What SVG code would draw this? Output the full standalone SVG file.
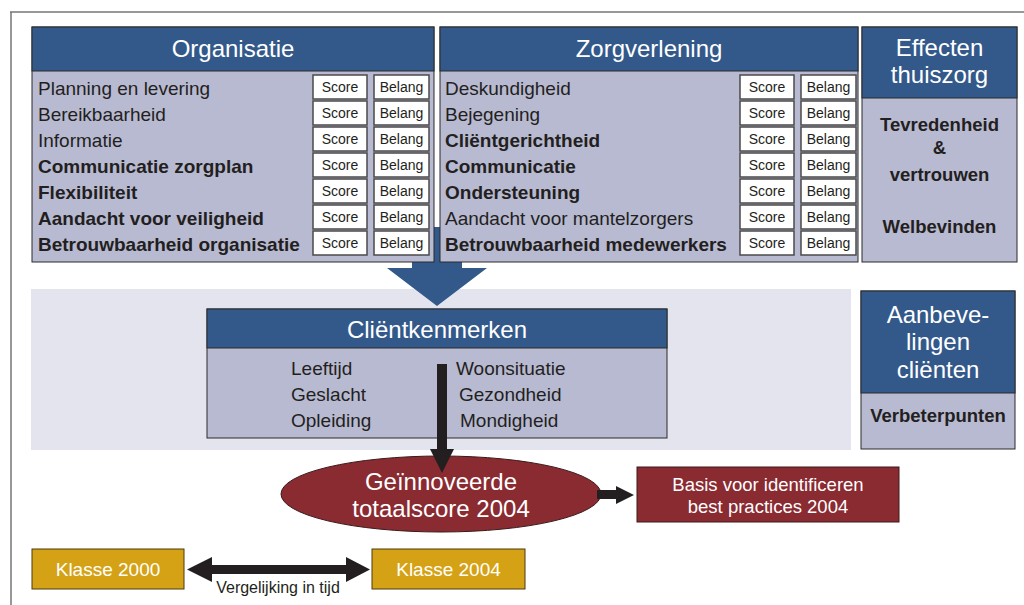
<svg xmlns="http://www.w3.org/2000/svg" width="1024" height="605" viewBox="0 0 1024 605">
<style>
text{font-family:"Liberation Sans",Arial,sans-serif;fill:#231f20}
.hdr{fill:#33598a;stroke:#2a2a2a;stroke-width:1}
.body{fill:#b8bad2;stroke:#2a2a2a;stroke-width:1}
.ht{fill:#fff;font-size:24px;text-anchor:middle}
.row{font-size:19px}
.b{font-weight:bold}
.sb{fill:#fff;stroke:#4a4a4a;stroke-width:1.5}
.st{font-size:14px;text-anchor:middle}
.ci{font-size:19px}
.eb{font-size:18.5px;font-weight:bold;text-anchor:middle}
.red{fill:#8a2a31;stroke:#3a1a1a;stroke-width:1}
.gold{fill:#d5a215;stroke:#4a3a10;stroke-width:1}
.wt{fill:#fff;text-anchor:middle}
.blk{fill:#231f20}
</style>
<defs>
<g id="sbrow">
<rect class="sb" x="0" y="0" width="54" height="24"/>
<rect class="sb" x="61" y="0" width="55" height="24"/>
<text class="st" x="27" y="17">Score</text>
<text class="st" x="88.5" y="17">Belang</text>
</g>
</defs>
<rect width="1024" height="605" fill="#fff"/>
<path d="M10 12H1024M11 12V605" fill="none" stroke="#777" stroke-width="1.5"/>
<rect id="band" x="31" y="289" width="820" height="161" fill="#e4e4ee"/>
<g id="connectors">
<path id="bigArrow" d="M412 227H462V268H487L437 306L387 268H412Z" fill="#33598a"/>
</g>
<g id="organisatie">
<rect class="body" x="32" y="27" width="402" height="235"/>
<rect class="hdr" x="32" y="27" width="402" height="44"/>
<text class="ht" x="233" y="57">Organisatie</text>
<text class="row" x="38" y="95">Planning en levering</text>
<text class="row" x="38" y="121">Bereikbaarheid</text>
<text class="row" x="38" y="147">Informatie</text>
<text class="row b" x="38" y="173">Communicatie zorgplan</text>
<text class="row b" x="38" y="199">Flexibiliteit</text>
<text class="row b" x="38" y="225">Aandacht voor veiligheid</text>
<text class="row b" x="38" y="251">Betrouwbaarheid organisatie</text>
<use href="#sbrow" x="313" y="75"/>
<use href="#sbrow" x="313" y="101"/>
<use href="#sbrow" x="313" y="127"/>
<use href="#sbrow" x="313" y="153"/>
<use href="#sbrow" x="313" y="179"/>
<use href="#sbrow" x="313" y="205"/>
<use href="#sbrow" x="313" y="231"/>
</g>
<g id="zorgverlening">
<rect class="body" x="440" y="27" width="418" height="235"/>
<rect class="hdr" x="440" y="27" width="418" height="44"/>
<text class="ht" x="649" y="57">Zorgverlening</text>
<text class="row" x="445" y="95">Deskundigheid</text>
<text class="row" x="445" y="121">Bejegening</text>
<text class="row b" x="445" y="147">Cliëntgerichtheid</text>
<text class="row b" x="445" y="173">Communicatie</text>
<text class="row b" x="445" y="199">Ondersteuning</text>
<text class="row" x="445" y="225">Aandacht voor mantelzorgers</text>
<text class="row b" x="445" y="251">Betrouwbaarheid medewerkers</text>
<use href="#sbrow" x="740" y="75"/>
<use href="#sbrow" x="740" y="101"/>
<use href="#sbrow" x="740" y="127"/>
<use href="#sbrow" x="740" y="153"/>
<use href="#sbrow" x="740" y="179"/>
<use href="#sbrow" x="740" y="205"/>
<use href="#sbrow" x="740" y="231"/>
</g>
<g id="effecten">
<rect class="body" x="862" y="27" width="155" height="235"/>
<rect class="hdr" x="862" y="27" width="155" height="71"/>
<text class="ht" x="939.5" y="56">Effecten</text>
<text class="ht" x="939.5" y="83">thuiszorg</text>
<text class="eb" x="939.5" y="131">Tevredenheid</text>
<text class="eb" x="939.5" y="154">&amp;</text>
<text class="eb" x="939.5" y="181">vertrouwen</text>
<text class="eb" x="939.5" y="233">Welbevinden</text>
</g>
<g id="aanbevelingen">
<rect class="body" x="861" y="291" width="154" height="158"/>
<rect class="hdr" x="861" y="291" width="154" height="102"/>
<text class="ht" x="938" y="323">Aanbeve-</text>
<text class="ht" x="938" y="350">lingen</text>
<text class="ht" x="938" y="378">cliënten</text>
<text class="eb" x="938" y="422">Verbeterpunten</text>
</g>
<g id="clientkenmerken">
<rect class="body" x="207" y="309" width="460" height="129"/>
<rect class="hdr" x="207" y="309" width="460" height="39"/>
<text class="ht" x="437" y="338">Cliëntkenmerken</text>
<text class="ci" x="291" y="375">Leeftijd</text>
<text class="ci" x="291" y="401">Geslacht</text>
<text class="ci" x="291" y="427">Opleiding</text>
<text class="ci" x="456" y="375">Woonsituatie</text>
<text class="ci" x="459" y="401">Gezondheid</text>
<text class="ci" x="460" y="427">Mondigheid</text>
</g>
<g id="totaalscore">
<ellipse class="red" cx="441" cy="494" rx="160" ry="38"/>
<text class="wt" x="441" y="490" style="font-size:24px">Geïnnoveerde</text>
<text class="wt" x="441" y="517" style="font-size:24px">totaalscore 2004</text>
</g>
<g id="bestpractices">
<rect class="red" x="637" y="467" width="262" height="55"/>
<text class="wt" x="768" y="491" style="font-size:18.5px">Basis voor identificeren</text>
<text class="wt" x="768" y="513" style="font-size:18.5px">best practices 2004</text>
</g>
<g id="klasse2000">
<rect class="gold" x="32" y="549" width="152" height="40"/>
<text class="wt" x="108" y="576" style="font-size:19px">Klasse 2000</text>
</g>
<g id="klasse2004">
<rect class="gold" x="372" y="549" width="153" height="40"/>
<text class="wt" x="448.5" y="576" style="font-size:19px">Klasse 2004</text>
</g>
<g id="connectors2">
<path class="blk" d="M437 364H447V449H454L442 473L430 449H437Z"/>
<path class="blk" d="M597 490H616V486L634 495L616 504V499H597Z"/>
<path class="blk" d="M187 569.5L212 557V565H346V557L370 569.5L346 582V574H212V582Z"/>
<text x="278" y="593" style="font-size:16px;text-anchor:middle">Vergelijking in tijd</text>
</g>
</svg>
